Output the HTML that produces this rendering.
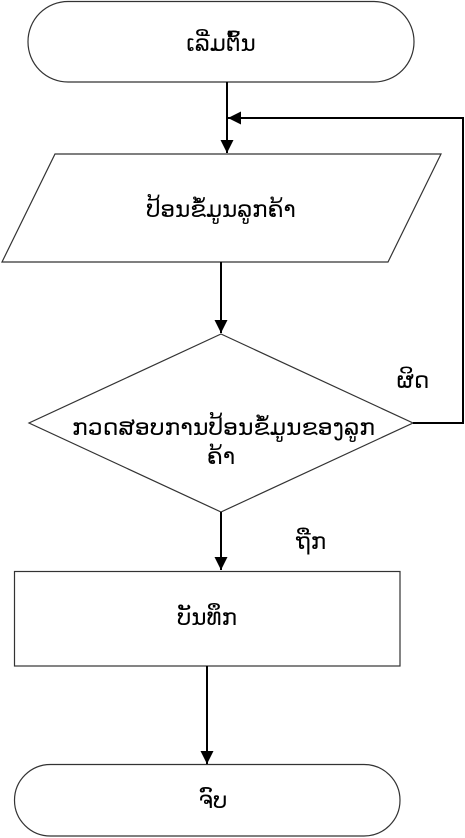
<!DOCTYPE html>
<html><head><meta charset="utf-8"><style>
html,body{margin:0;padding:0;background:#fff;}
svg{display:block;}
text{font-family:"DejaVu Sans","Liberation Sans",sans-serif;font-size:23px;fill:#000;}
</style></head><body>
<svg width="465" height="838" viewBox="0 0 465 838" xmlns="http://www.w3.org/2000/svg">
<defs><marker id="a" markerWidth="14" markerHeight="14" refX="13" refY="6.5" orient="auto" markerUnits="userSpaceOnUse"><path d="M0,0 L13,6.5 L0,13 z" fill="#000"/></marker></defs>
<g fill="none" stroke="#333" stroke-width="1.2">
<rect x="28" y="1.5" width="386" height="80.5" rx="40" ry="40"/>
<polygon points="55,154 441,154 388,262 2,262"/>
<polygon points="221,334 413,423 221,512 29,423"/>
<rect x="14.5" y="571.5" width="385.5" height="94.5"/>
<rect x="14.5" y="764.5" width="385.5" height="71.5" rx="36" ry="36"/>
</g>
<g stroke="#000" stroke-width="2" fill="none">
<line x1="227" y1="82" x2="227" y2="153" marker-end="url(#a)"/>
<polyline points="413,423 463,423 463,118 228,118" marker-end="url(#a)"/>
<line x1="221" y1="262" x2="221" y2="333" marker-end="url(#a)"/>
<line x1="221" y1="512" x2="221" y2="570" marker-end="url(#a)"/>
<line x1="207" y1="666" x2="207" y2="764" marker-end="url(#a)"/>
</g>
<text x="221" y="51" text-anchor="middle">ເລີ່ມຕົ້ນ</text>
<text x="221" y="217" text-anchor="middle">ປ້ອນຂໍ້ມູນລູກຄ້າ</text>
<text x="72" y="435" textLength="303" lengthAdjust="spacingAndGlyphs">ກວດສອບການປ້ອນຂໍ້ມູນຂອງລູກ</text>
<text x="221" y="464" text-anchor="middle">ຄ້າ</text>
<text x="413" y="388" text-anchor="middle">ຜິດ</text>
<text x="311" y="549" text-anchor="middle">ຖືກ</text>
<text x="207" y="625" text-anchor="middle">ບັນທຶກ</text>
<text x="213" y="808" text-anchor="middle">ຈົບ</text>
</svg>
</body></html>
